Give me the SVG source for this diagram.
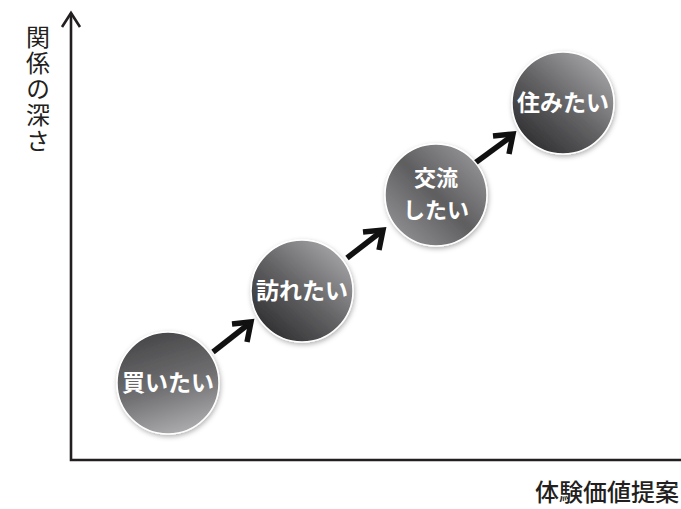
<svg xmlns="http://www.w3.org/2000/svg" width="681" height="509" viewBox="0 0 681 509">
<style>
.ax{stroke:#231f20;stroke-width:2.6;fill:none}
.ar{stroke:#111;stroke-width:5.5;fill:none;stroke-linecap:butt;stroke-linejoin:miter}
.lbl{font-family:"Noto Sans CJK JP","Noto Sans",sans-serif;fill:#231f20;font-size:24px}
.nt{font-family:"Noto Sans CJK JP","Noto Sans",sans-serif;fill:#fff;font-size:23px;font-weight:bold;text-anchor:middle}
.ball{stroke:#fff;stroke-width:1.5;filter:url(#sh)}
</style>
<defs>
<linearGradient id="g1" x1="0.85" y1="0.1" x2="0.15" y2="0.9">
<stop offset="0" stop-color="#a2a2a4"/>
<stop offset="0.5" stop-color="#646466"/>
<stop offset="1" stop-color="#303032"/>
</linearGradient>
<linearGradient id="g2" x1="0.3" y1="0" x2="0.6" y2="1">
<stop offset="0" stop-color="#464648"/>
<stop offset="0.55" stop-color="#707072"/>
<stop offset="1" stop-color="#acacae"/>
</linearGradient>
<linearGradient id="g3" x1="0.1" y1="0.9" x2="0.9" y2="0.1">
<stop offset="0" stop-color="#909092"/>
<stop offset="0.5" stop-color="#5e5e60"/>
<stop offset="1" stop-color="#949496"/>
</linearGradient>
<filter id="sh" x="-20%" y="-20%" width="140%" height="140%">
<feGaussianBlur in="SourceAlpha" stdDeviation="2.5"/>
<feOffset dx="1" dy="2" result="b"/>
<feFlood flood-color="#000" flood-opacity="0.3"/>
<feComposite in2="b" operator="in"/>
<feMerge><feMergeNode/><feMergeNode in="SourceGraphic"/></feMerge>
</filter>
</defs>
<rect width="681" height="509" fill="#fff"/>
<g id="axes">
<path class="ax" d="M71 13 V460 H681"/>
<path class="ax" d="M62 27 L71 13 L80 27"/>
</g>
<g id="connectors">
<path class="ar" d="M213 352 L250 323"/>
<path class="ar" d="M232 324 L251 322 L247 342"/>
<path class="ar" d="M347 258 L382 231"/>
<path class="ar" d="M363 232 L383 230 L379 250"/>
<path class="ar" d="M475 163 L512 136"/>
<path class="ar" d="M493 136 L513 134 L509 154"/>
</g>
<g id="n1">
<circle class="ball" cx="168" cy="383" r="51" fill="url(#g2)"/>
<text class="nt" x="168" y="391">買いたい</text>
</g>
<g id="n2">
<circle class="ball" cx="302" cy="291" r="51" fill="url(#g1)"/>
<text class="nt" x="302" y="299">訪れたい</text>
</g>
<g id="n3">
<circle class="ball" cx="436" cy="195" r="51" fill="url(#g3)"/>
<text class="nt" font-size="22" style="font-size:22px"><tspan x="436" y="186">交流</tspan><tspan x="436" y="218">したい</tspan></text>
</g>
<g id="n4">
<circle class="ball" cx="563" cy="103" r="51" fill="url(#g1)"/>
<text class="nt" x="563" y="111">住みたい</text>
</g>
<g id="ylabel">
<text class="lbl" x="38" y="25" writing-mode="vertical-rl" letter-spacing="2">関係の深さ</text>
</g>
<g id="xlabel">
<text class="lbl" x="535" y="501" font-weight="500">体験価値提案</text>
</g>
</svg>
